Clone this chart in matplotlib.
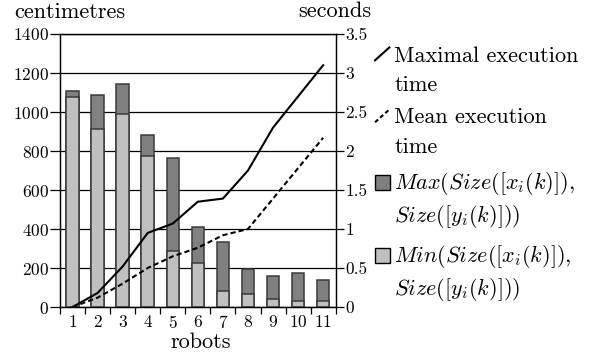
import matplotlib.pyplot as plt
from matplotlib.legend_handler import HandlerBase
from matplotlib.lines import Line2D
from matplotlib.patches import Rectangle, Patch

plt.rcParams['font.family'] = ['cmr10', 'DejaVu Serif']
plt.rcParams['mathtext.fontset'] = 'cm'
plt.rcParams['axes.formatter.use_mathtext'] = True

# --- data ---
robots = list(range(1, 12))
size_max = [1108, 1087, 1143, 884, 762, 412, 335, 196, 159, 176, 137]
size_min = [1078, 914, 988, 774, 287, 227, 84, 65, 41, 29, 32]
time_max = [0.0, 0.18, 0.52, 0.95, 1.07, 1.35, 1.39, 1.75, 2.3, 2.7, 3.1]
time_mean = [0.0, 0.12, 0.30, 0.50, 0.65, 0.76, 0.92, 1.0, 1.39, 1.78, 2.17]
cm_ticks = [0, 200, 400, 600, 800, 1000, 1200, 1400]
sec_ticks = [0, 0.5, 1, 1.5, 2, 2.5, 3, 3.5]
sec_labels = ['0', '0.5', '1', '1.5', '2', '2.5', '3', '3.5']

DARK = '#808080'
LIGHT = '#c0c0c0'
EDGE = '#3a3a3a'
FS = 16
BASE = 0.8 * FS   # first-line baseline above the handle box bottom (points)


class DiagonalLine(HandlerBase):
    """Short slanted stroke next to the first line of the label."""
    def create_artists(self, legend, orig, xd, yd, w, h, fs, trans):
        ln = Line2D([0.0, 0.9 * w], [BASE, BASE + 0.58 * fs],
                    color='black', lw=orig.get_linewidth(), transform=trans)
        if orig.get_linestyle() == '--':
            ln.set_dashes((2, 1.3))
        return [ln]


class SmallSquare(HandlerBase):
    def create_artists(self, legend, orig, xd, yd, w, h, fs, trans):
        s = 0.66 * fs
        r = Rectangle((0.02 * fs, BASE), s, s,
                      facecolor=orig.get_facecolor(), edgecolor='black', lw=1.0,
                      transform=trans)
        return [r]


fig = plt.figure(figsize=(5.97, 3.56), dpi=100)
ax = fig.add_axes([0.1005, 0.1376, 0.4618, 0.7669])

ax.bar(robots, size_max, width=0.5, color=DARK, edgecolor=EDGE, lw=1.1, zorder=2)
ax.bar(robots, size_min, width=0.5, color=LIGHT, edgecolor=EDGE, lw=1.1, zorder=3)

ax.set_xlim(0.5, 11.5)
ax.set_ylim(0, 1400)
ax.set_yticks(cm_ticks)
ax.set_xticks(robots)
ax.set_xticks([r - 0.5 for r in robots] + [11.5], minor=True)
ax.yaxis.grid(True, color='black', lw=0.9)
ax.set_axisbelow(True)
ax.tick_params(axis='y', direction='out', length=7, width=0.9, pad=1, labelsize=12.5)
ax.tick_params(axis='x', which='major', length=0, pad=5, labelsize=12.5)
ax.tick_params(axis='x', which='minor', direction='out', length=5, width=0.9)
for sp in ax.spines.values():
    sp.set_linewidth(0.9)

ax2 = ax.twinx()
max_line, = ax2.plot(robots, time_max, color='black', lw=1.5)
mean_line, = ax2.plot(robots, time_mean, color='black', lw=1.5, linestyle='--', dashes=(2.5, 1.5))
ax2.set_ylim(0, 3.5)
ax2.set_yticks(sec_ticks)
ax2.set_yticklabels(sec_labels)
ax2.tick_params(axis='y', direction='out', length=5.5, width=0.9, pad=1.5, labelsize=12.5)
for sp in ax2.spines.values():
    sp.set_linewidth(0.9)

fig.text(14 / 597, 1 - 18.5 / 356, 'centimetres', fontsize=FS, va='baseline')
fig.text(371 / 597, 1 - 16.7 / 356, 'seconds', fontsize=FS, va='baseline', ha='right')
fig.text(201 / 597, 1 - 347.5 / 356, 'robots', fontsize=FS, va='baseline', ha='center')

handles = [max_line, mean_line, Patch(facecolor=DARK), Patch(facecolor=LIGHT)]
labels = ['Maximal execution\ntime',
          'Mean execution\ntime',
          '$Max(Size([x_i(k)]),$\n$Size([y_i(k)]))$',
          '$Min(Size([x_i(k)]),$\n$Size([y_i(k)]))$']
leg = fig.legend(handles, labels, loc='upper left', bbox_to_anchor=(375 / 597, 1 - 46 / 356),
                 frameon=False, fontsize=FS, handlelength=0.72, handletextpad=0.14,
                 borderpad=0, borderaxespad=0, labelspacing=0.6,
                 handler_map={Line2D: DiagonalLine(), Patch: SmallSquare()})
for t, spacing in zip(leg.get_texts(), [1.62, 1.62, 1.3, 1.3]):
    t.set_linespacing(spacing)

fig.savefig('out.png', dpi=100)
